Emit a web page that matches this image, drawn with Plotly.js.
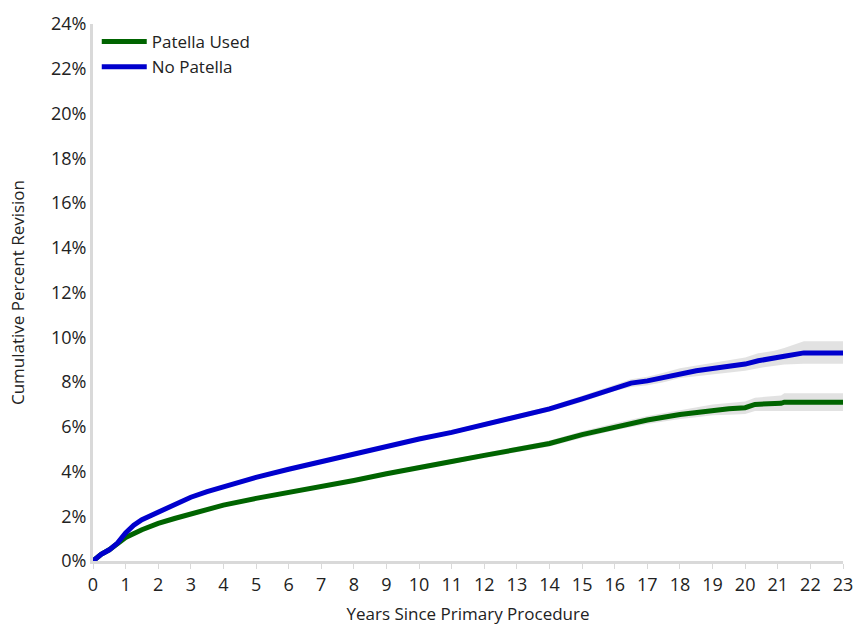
<!DOCTYPE html>
<html>
<head>
<meta charset="utf-8">
<script src="https://cdn.plot.ly/plotly-3.0.1.min.js"></script>
<style>html,body{margin:0;padding:0;background:#fff;}#chart{width:854px;height:625px;}</style>
</head>
<body>
<div id="chart"></div>
<script>
const noPatellaX = [0,0.1,0.25,0.5,0.75,1,1.25,1.5,2,2.5,3,3.5,4,4.5,5,6,7,8,9,10,11,12,13,14,15,16,16.5,17,17.5,18,18.5,19,19.5,20,20.4,20.9,21.2,21.8,23];
const noPatellaY = [0,0.15,0.3,0.5,0.8,1.25,1.6,1.85,2.2,2.55,2.85,3.1,3.32,3.53,3.74,4.1,4.44,4.8,5.12,5.45,5.75,6.1,6.45,6.8,7.25,7.75,7.95,8.05,8.2,8.4,8.5,8.6,8.7,8.8,8.95,9.05,9.15,9.3,9.3];
const noPatellaLo = [0,0.12,0.26,0.45,0.75,1.2,1.55,1.8,2.15,2.5,2.8,3.05,3.27,3.48,3.69,4.04,4.37,4.73,5.04,5.37,5.66,6.0,6.34,6.68,7.11,7.6,7.78,7.86,7.99,8.18,8.26,8.34,8.42,8.5,8.62,8.7,8.78,8.82,8.82];
const noPatellaHi = [0,0.18,0.34,0.55,0.85,1.3,1.65,1.9,2.25,2.6,2.9,3.15,3.37,3.58,3.79,4.16,4.51,4.87,5.2,5.53,5.84,6.2,6.56,6.92,7.39,7.9,8.12,8.24,8.41,8.62,8.74,8.86,8.98,9.1,9.28,9.4,9.52,9.82,9.82];

const patellaX = [0,0.1,0.25,0.5,0.75,1,1.5,2,2.5,3,3.5,4,5,6,7,8,9,10,11,12,13,14,15,16,17,18,18.5,19,19.5,20,20.3,21.1,21.2,23];
const patellaY = [0,0.15,0.3,0.5,0.8,1.05,1.4,1.68,1.9,2.1,2.3,2.5,2.8,3.05,3.32,3.6,3.9,4.2,4.45,4.72,5.0,5.25,5.65,6.0,6.3,6.55,6.65,6.75,6.8,6.85,7.0,7.05,7.1,7.1];
const patellaLo = [0,0.12,0.26,0.45,0.75,1.0,1.35,1.64,1.86,2.06,2.26,2.46,2.75,3.0,3.26,3.53,3.82,4.11,4.35,4.61,4.88,5.12,5.5,5.84,6.12,6.35,6.43,6.51,6.54,6.57,6.7,6.7,6.7,6.7];
const patellaHi = [0,0.18,0.34,0.55,0.85,1.1,1.45,1.72,1.94,2.14,2.34,2.54,2.85,3.1,3.38,3.67,3.98,4.29,4.55,4.83,5.12,5.38,5.8,6.16,6.48,6.75,6.87,6.99,7.06,7.13,7.3,7.4,7.5,7.5];

const xTicks = [0,1,2,3,4,5,6,7,8,9,10,11,12,13,14,15,16,17,18,19,20,21,22,23];
const yTicks = [0,2,4,6,8,10,12,14,16,18,20,22,24];
const yTickText = yTicks.map(v => v + '%');

const bandColor = 'rgba(190,190,190,0.45)';
function band(x, lo, hi) {
  return [
    {x: x, y: lo, mode: 'lines', line: {width: 0}, showlegend: false, hoverinfo: 'skip'},
    {x: x, y: hi, mode: 'lines', line: {width: 0}, fill: 'tonexty', fillcolor: bandColor, showlegend: false, hoverinfo: 'skip'}
  ];
}

const data = [
  ...band(patellaX, patellaLo, patellaHi),
  ...band(noPatellaX, noPatellaLo, noPatellaHi),
  {x: patellaX, y: patellaY, mode: 'lines', name: 'Patella Used', line: {color: '#006400', width: 5}},
  {x: noPatellaX, y: noPatellaY, mode: 'lines', name: 'No Patella', line: {color: '#0000cd', width: 5}}
];

const txt = '#222';
const fam = '"Open Sans", "Noto Sans", sans-serif';
const layout = {
  width: 854, height: 625,
  margin: {l: 93, r: 11, t: 24, b: 64},
  paper_bgcolor: '#fff', plot_bgcolor: '#fff',
  font: {family: fam, size: 18, color: txt},
  showlegend: true,
  legend: {x: 0.005, y: 1.0, xanchor: 'left', yanchor: 'top', traceorder: 'normal', bgcolor: 'rgba(0,0,0,0)', font: {size: 17, color: txt}, tracegroupgap: 0, itemwidth: 45},
  xaxis: {
    range: [0, 23], tickvals: xTicks, ticktext: xTicks.map(String),
    showgrid: false, zeroline: false, showline: true, linecolor: '#d9d9d9', linewidth: 3,
    ticks: 'outside', ticklen: 5, tickcolor: '#d9d9d9', tickwidth: 1,
    tickfont: {size: 18, color: txt},
    title: {text: 'Years Since Primary Procedure', font: {size: 17, color: txt}, standoff: 24}
  },
  yaxis: {
    range: [0, 24], tickvals: yTicks, ticktext: yTickText,
    showgrid: false, zeroline: false, showline: true, linecolor: '#d9d9d9', linewidth: 3,
    ticks: '', tickfont: {size: 18, color: txt},
    title: {text: 'Cumulative Percent Revision', font: {size: 17, color: txt}, standoff: 22}
  }
};
Plotly.newPlot('chart', data, layout, {displayModeBar: false, staticPlot: true});
</script>
</body>
</html>
